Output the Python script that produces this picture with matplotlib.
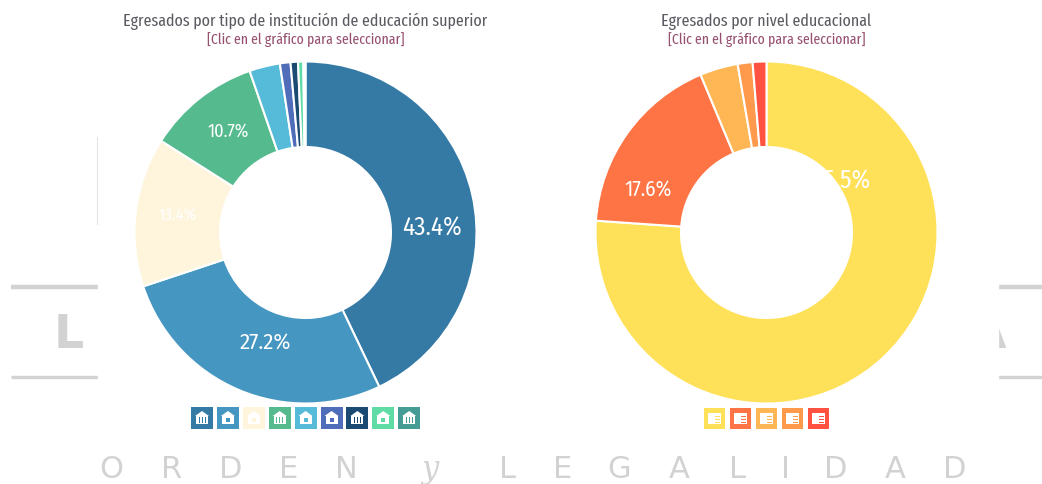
import matplotlib
matplotlib.use("Agg")
import matplotlib.pyplot as plt
from matplotlib.patches import Rectangle, Polygon

# slices, clockwise from the top
inst_values = [42.9, 27.0, 14.1, 10.7, 2.9, 1.0, 0.7, 0.5, 0.2]
inst_colors = ['#3579a5', '#4596c1', '#fff5dd', '#55bb8f', '#55bbd8', '#4f6db8', '#1b4a73', '#5fdca6', '#459c94']
inst_labels = ['43.4%', '27.2%', '13.4%', '10.7%']

nivel_values = [76.1, 17.6, 3.6, 1.4, 1.3]
nivel_colors = ['#ffe159', '#ff7444', '#ffb755', '#ff9a4d', '#ff5240']
nivel_labels = ['75.5%', '17.6%']

title_left = 'Egresados por tipo de institución de educación superior'
title_right = 'Egresados por nivel educacional'
subtitle = '[Clic en el gráfico para seleccionar]'

# letters of the background banner with their x centres
banner_letters = list('ORDENyLEGALIDAD')
banner_x = [111, 172, 231, 289, 346, 430, 508, 563, 619, 679, 737, 785, 836, 895, 955]

W, H = 1042, 485
# fallbacks are there in case the condensed faces are missing
TITLE_FONT = ['Fira Sans Extra Condensed', 'Fira Sans Condensed', 'Roboto', 'DejaVu Sans']
LABEL_FONT = ['Fira Sans Condensed', 'Roboto', 'DejaVu Sans']
GREY = '#d2d2d2'

fig = plt.figure(figsize=(W / 100, H / 100), dpi=100, facecolor='white')

bg = fig.add_axes([0, 0, 1, 1], zorder=0)
bg.set_xlim(0, W)
bg.set_ylim(H, 0)
bg.axis('off')


def donut(values, colors, cx, cy=233.5, r=171):
    ax = fig.add_axes([(cx - r) / W, 1 - (cy + r) / H, 2 * r / W, 2 * r / H], zorder=1)
    ax.pie(values, colors=colors, startangle=90, counterclock=False, radius=1,
           wedgeprops={'width': 0.5, 'edgecolor': 'white', 'linewidth': 1.5})
    ax.set_xlim(-1, 1)
    ax.set_ylim(-1, 1)
    for p in ax.patches:
        p.set_clip_on(False)
    return ax


donut(inst_values, inst_colors, 305.5)
donut(nivel_values, nivel_colors, 766.5)

over = fig.add_axes([0, 0, 1, 1], zorder=2)
over.set_xlim(0, W)
over.set_ylim(H, 0)
over.axis('off')
over.patch.set_alpha(0)

# washed out banner behind the charts
for x0, x1 in [(11, 98), (998, W)]:
    bg.plot([x0, x1], [288, 288], color=GREY, lw=3.2, solid_capstyle='butt')
    bg.plot([x0, x1], [378, 378], color=GREY, lw=2.4, solid_capstyle='butt')
bg.plot([97, 97], [138, 225], color='#e6e6e6', lw=0.8)
bg.text(69, 336, 'L', color=GREY, fontsize=34, family='DejaVu Sans', weight='bold', ha='center', va='center')
bg.text(988, 336, 'A', color=GREY, fontsize=34, family='DejaVu Sans', weight='bold', ha='center', va='center', zorder=1)
bg.add_patch(Rectangle((98, 270), 900, 130, color='white', zorder=2))
for ch, x in zip(banner_letters, banner_x):
    if ch == 'y':
        bg.text(x, 470, ch, color=GREY, fontsize=22, family='DejaVu Serif', style='italic', ha='center', va='center')
    else:
        bg.text(x, 470, ch, color=GREY, fontsize=22, family='DejaVu Sans', ha='center', va='center')

# titles
over.text(305.5, 21, title_left, color='#5b5b63', fontsize=12.5, family=TITLE_FONT, ha='center', va='center')
over.text(305.5, 40, subtitle, color='#96506f', fontsize=10.8, family=TITLE_FONT, ha='center', va='center')
over.text(766.5, 21, title_right, color='#5b5b63', fontsize=12.5, family=TITLE_FONT, ha='center', va='center')
over.text(766.5, 40, subtitle, color='#96506f', fontsize=10.8, family=TITLE_FONT, ha='center', va='center')

# slice labels
for text, x, y, size in zip(inst_labels, [432, 265, 178, 228], [228, 342, 215, 132], [18, 16.4, 12, 13.2]):
    over.text(x, y, text, color='white', fontsize=size, family=LABEL_FONT, ha='center', va='center')
for text, x, y, size in zip(nivel_labels, [842, 648], [181, 189], [18, 15.2]):
    over.text(x, y, text, color='white', fontsize=size, family=LABEL_FONT, ha='center', va='center')


def bank_icon(x, y, s, color, columns=False):
    over.add_patch(Rectangle((x, y), s, s, color=color, lw=0))
    over.add_patch(Polygon([(x + 4, y + 9), (x + s / 2, y + 4), (x + s - 4, y + 9)], color='white', lw=0))
    over.add_patch(Rectangle((x + 5, y + 9), s - 10, 8, color='white', lw=0))
    if columns:
        for dx in (7.5, 10.5, 13.5):
            over.add_patch(Rectangle((x + dx, y + 10), 1.2, 6, color=color, lw=0))
    else:
        over.add_patch(Rectangle((x + s / 2 - 2, y + 11), 4, 4, color=color, lw=0))


def doc_icon(x, y, s, color):
    over.add_patch(Rectangle((x, y), s, s, color=color, lw=0))
    over.add_patch(Rectangle((x + 4, y + 5), s - 8, s - 10, color='white', lw=0))
    for dy in (8, 11, 14):
        over.add_patch(Rectangle((x + 11, y + dy), 5, 1, color=color, lw=0))


for i, c in enumerate(inst_colors):
    bank_icon(191 + 25.9 * i, 408, 22, c, columns=i in (0, 3, 6, 8))
for i, c in enumerate(nivel_colors):
    doc_icon(704 + 26 * i, 409, 21, c)

fig.savefig('out.png', dpi=100, facecolor='white')
